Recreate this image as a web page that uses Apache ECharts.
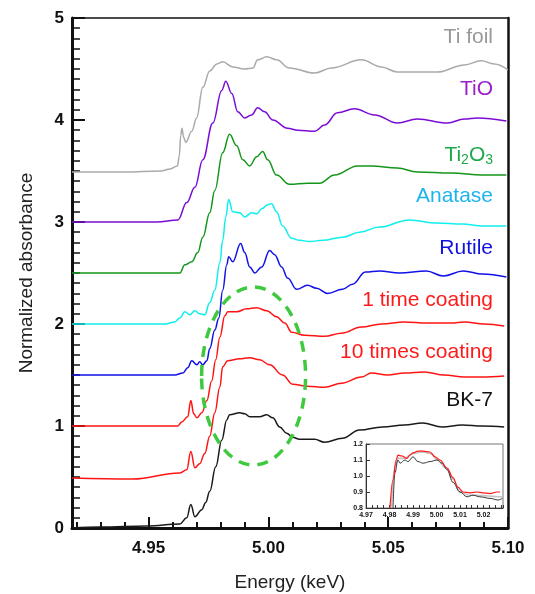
<!DOCTYPE html>
<html>
<head>
<meta charset="utf-8">
<script src="https://cdn.jsdelivr.net/npm/echarts@6/dist/echarts.min.js"></script>
<style>
html,body{margin:0;padding:0;background:#fff}
#chart{width:535px;height:594px}
</style>
</head>
<body>
<div id="chart"></div>
<script>
// spectra, energy in keV, absorbance offset per sample
var tiFoilE = [4.918, 4.940, 4.955, 4.959, 4.962, 4.9628, 4.9634, 4.9639, 4.9646, 4.9655, 4.968, 4.970, 4.9726, 4.9755, 4.9785, 4.9809, 4.9851, 4.990, 4.9935, 4.9955, 4.9993, 5.0034, 5.0088, 5.0193, 5.0263, 5.0388, 5.0472, 5.0538, 5.0705, 5.0818, 5.0888, 5.0943, 5.100];
var tiFoilA = [3.49, 3.49, 3.50, 3.52, 3.55, 3.65, 3.85, 3.92, 3.83, 3.78, 3.89, 4.02, 4.32, 4.48, 4.55, 4.57, 4.52, 4.50, 4.51, 4.59, 4.62, 4.59, 4.51, 4.46, 4.51, 4.59, 4.52, 4.47, 4.47, 4.54, 4.58, 4.55, 4.49];

var tioE = [4.918, 4.9534, 4.9622, 4.9659, 4.9693, 4.9726, 4.9768, 4.9805, 4.9822, 4.9847, 4.9872, 4.9901, 4.993, 4.9955, 4.9984, 5.0018, 5.008, 5.0122, 5.0193, 5.0234, 5.0288, 5.0359, 5.0443, 5.0538, 5.0622, 5.0747, 5.0818, 5.0872, 5.0993];
var tioA = [3.00, 3.00, 3.02, 3.19, 3.34, 3.61, 3.97, 4.29, 4.38, 4.26, 4.08, 4.02, 4.05, 4.12, 4.08, 4.00, 3.92, 3.90, 3.89, 3.95, 4.07, 4.11, 4.05, 3.97, 4.01, 3.97, 4.01, 4.02, 3.99];

var ti2o3E = [4.918, 4.963, 4.9651, 4.968, 4.9705, 4.9726, 4.9755, 4.9776, 4.9809, 4.9838, 4.9867, 4.9893, 4.9922, 4.9951, 4.9976, 4.9997, 5.0034, 5.0088, 5.0163, 5.0213, 5.0276, 5.0372, 5.043, 5.0538, 5.0622, 5.0763, 5.0893, 5.0993];
var ti2o3A = [2.50, 2.50, 2.58, 2.61, 2.70, 2.85, 3.09, 3.31, 3.68, 3.86, 3.75, 3.61, 3.55, 3.64, 3.69, 3.61, 3.46, 3.37, 3.38, 3.38, 3.46, 3.55, 3.55, 3.53, 3.49, 3.48, 3.46, 3.46];

var anataseE = [4.918, 4.9568, 4.9609, 4.963, 4.9651, 4.9672, 4.9693, 4.9713, 4.9734, 4.9755, 4.9776, 4.9797, 4.9809, 4.9822, 4.9834, 4.9851, 4.988, 4.9901, 4.993, 4.9951, 4.9972, 4.9997, 5.0013, 5.0034, 5.0059, 5.0097, 5.013, 5.0172, 5.0226, 5.0309, 5.038, 5.0463, 5.0588, 5.0701, 5.0809, 5.0893, 5.0993];
var anataseA = [2.00, 2.00, 2.02, 2.06, 2.12, 2.09, 2.13, 2.10, 2.09, 2.21, 2.33, 2.60, 2.82, 3.05, 3.22, 3.10, 3.09, 3.05, 3.09, 3.08, 3.13, 3.17, 3.18, 3.10, 2.96, 2.84, 2.82, 2.81, 2.82, 2.85, 2.90, 2.95, 3.02, 2.99, 2.98, 2.96, 2.96];

var rutileE = [4.918, 4.9609, 4.9643, 4.9663, 4.968, 4.9701, 4.9713, 4.9726, 4.9743, 4.9755, 4.9776, 4.9793, 4.9809, 4.9826, 4.9834, 4.9851, 4.9884, 4.9901, 4.9922, 4.9943, 4.9972, 5.0005, 5.0026, 5.0055, 5.008, 5.0118, 5.0163, 5.0201, 5.0247, 5.0309, 5.0351, 5.0405, 5.0463, 5.0547, 5.0659, 5.073, 5.0813, 5.0893, 5.0993];
var rutileA = [1.50, 1.50, 1.52, 1.57, 1.64, 1.60, 1.63, 1.60, 1.64, 1.76, 1.94, 2.06, 2.33, 2.58, 2.66, 2.61, 2.79, 2.70, 2.56, 2.50, 2.56, 2.72, 2.68, 2.56, 2.45, 2.34, 2.38, 2.35, 2.30, 2.34, 2.39, 2.51, 2.52, 2.50, 2.52, 2.47, 2.52, 2.49, 2.46];

var coat1E = [4.918, 4.9622, 4.9638, 4.9663, 4.9676, 4.9688, 4.9701, 4.9722, 4.9743, 4.9763, 4.978, 4.9797, 4.9818, 4.983, 4.9868, 4.9909, 4.9951, 4.9993, 5.0034, 5.0068, 5.0097, 5.0151, 5.0234, 5.0305, 5.0388, 5.0472, 5.0568, 5.0663, 5.0763, 5.0818, 5.0901, 5.0984];
var coat1A = [1.00, 1.00, 1.04, 1.09, 1.25, 1.12, 1.08, 1.13, 1.25, 1.44, 1.65, 1.87, 2.08, 2.12, 2.12, 2.15, 2.16, 2.13, 2.07, 2.01, 1.92, 1.89, 1.88, 1.91, 1.97, 2.00, 2.02, 2.01, 2.01, 2.02, 2.00, 1.98];

var coat10E = [4.918, 4.9434, 4.963, 4.9659, 4.9676, 4.9693, 4.9713, 4.9734, 4.9755, 4.9776, 4.9797, 4.9809, 4.983, 4.988, 4.9922, 4.9963, 5.0005, 5.0059, 5.0101, 5.0163, 5.0234, 5.0305, 5.0388, 5.043, 5.0497, 5.0568, 5.0651, 5.0734, 5.0818, 5.0888, 5.0984];
var coat10A = [0.49, 0.48, 0.54, 0.57, 0.75, 0.59, 0.63, 0.73, 0.90, 1.13, 1.38, 1.58, 1.64, 1.66, 1.67, 1.65, 1.60, 1.50, 1.41, 1.39, 1.38, 1.42, 1.48, 1.52, 1.50, 1.52, 1.53, 1.50, 1.48, 1.48, 1.49];

var bk7E = [4.918, 4.9297, 4.9493, 4.963, 4.9659, 4.9676, 4.9693, 4.9722, 4.9738, 4.9755, 4.978, 4.9805, 4.9826, 4.9838, 4.988, 4.9901, 4.9922, 4.9963, 4.9993, 5.0018, 5.0047, 5.0076, 5.0101, 5.013, 5.0193, 5.0234, 5.0309, 5.038, 5.0476, 5.0568, 5.0643, 5.0726, 5.0809, 5.0893, 5.0984];
var bk7A = [0.00, 0.01, 0.02, 0.04, 0.10, 0.23, 0.11, 0.18, 0.25, 0.36, 0.60, 0.86, 1.06, 1.11, 1.13, 1.12, 1.09, 1.09, 1.11, 1.08, 0.99, 0.93, 0.89, 0.87, 0.87, 0.84, 0.88, 0.96, 0.99, 1.01, 1.03, 0.99, 1.01, 1.00, 0.99];

// inset (edge region, not offset)
var insetGrayE = [4.9808, 4.9822, 4.9835, 4.9860, 4.9900, 4.9940, 4.9975, 5.0005, 5.0040, 5.0070, 5.0100, 5.0140, 5.0180, 5.0220, 5.0260, 5.028];
var insetGrayA = [0.80, 1.05, 1.11, 1.11, 1.14, 1.15, 1.14, 1.10, 1.05, 0.98, 0.90, 0.88, 0.88, 0.875, 0.87, 0.87];
var insetBlackE = [4.9815, 4.9823, 4.9836, 4.9845, 4.9866, 4.9879, 4.990, 4.9921, 4.9943, 4.9972, 5.0002, 5.0023, 5.0045, 5.007, 5.010, 5.013, 5.0155, 5.0185, 5.0228, 5.0262, 5.028];
var insetBlackA = [0.80, 1.02, 1.10, 1.08, 1.10, 1.09, 1.12, 1.09, 1.08, 1.09, 1.10, 1.08, 1.04, 0.96, 0.90, 0.87, 0.88, 0.87, 0.86, 0.85, 0.86];
var insetRedE = [4.9802, 4.9815, 4.9828, 4.9836, 4.9853, 4.9874, 4.9887, 4.990, 4.9921, 4.9943, 4.9972, 4.9994, 5.0015, 5.0045, 5.007, 5.0091, 5.0113, 5.0143, 5.0172, 5.0198, 5.0228, 5.0257, 5.027];
var insetRedA = [0.80, 0.975, 1.10, 1.13, 1.125, 1.11, 1.13, 1.145, 1.155, 1.155, 1.15, 1.12, 1.10, 1.05, 0.99, 0.93, 0.90, 0.895, 0.90, 0.895, 0.89, 0.90, 0.90];

// tick labels
var xLabels = [4.95, 5.00, 5.05, 5.10];
var xMinor = [4.92, 4.93, 4.94, 4.95, 4.96, 4.97, 4.98, 4.99, 5.00, 5.01, 5.02, 5.03, 5.04, 5.05, 5.06, 5.07, 5.08, 5.09, 5.10];
var insetXLabels = [4.97, 4.98, 4.99, 5.00, 5.01, 5.02];

// dashed ellipse marking the white-line region (data coords)
var ringCenter = [4.9938, 1.49];
var ringRadius = [0.0217, 0.873];

function zip(xs, ys) {
  var out = [];
  for (var i = 0; i < xs.length; i++) out.push([xs[i], ys[i]]);
  return out;
}

var FONT = 'Liberation Sans, Arial, sans-serif';

function line(name, xs, ys, color, width, xi, yi, z) {
  return {
    name: name, type: 'line', data: zip(xs, ys),
    xAxisIndex: xi || 0, yAxisIndex: yi || 0,
    showSymbol: false, symbol: 'none', smooth: 0.4, smoothMonotone: 'x',
    lineStyle: { color: color, width: width || 1.5 },
    emphasis: { disabled: true }, animation: false, z: z || 3
  };
}

var chart = echarts.init(document.getElementById('chart'));

var option = {
  animation: false,
  backgroundColor: '#fff',
  grid: [
    { left: 72, right: 27, top: 18, bottom: 66, outerBoundsMode: 'none' },
    { left: 366, top: 444, width: 137, height: 64, outerBoundsMode: 'none',
      show: true, backgroundColor: '#fff', borderColor: '#777', borderWidth: 1 }
  ],
  xAxis: [
    { // main, labels + minor ticks
      type: 'value', gridIndex: 0, min: 4.918, max: 5.10,
      name: 'Energy (keV)', nameLocation: 'middle', nameGap: 45,
      nameTextStyle: { fontFamily: FONT, fontSize: 19, color: '#222' },
      axisLine: { lineStyle: { color: '#111', width: 3 } },
      axisTick: { inside: true, length: 6, customValues: xMinor, lineStyle: { color: '#111', width: 2 } },
      axisLabel: { customValues: xLabels, margin: 12, fontFamily: FONT, fontSize: 17, fontWeight: 'bold', color: '#111',
        formatter: function (v) { return v.toFixed(2); } },
      splitLine: { show: false }
    },
    { // major ticks
      type: 'value', gridIndex: 0, min: 4.918, max: 5.10, position: 'bottom',
      axisLine: { show: false },
      axisTick: { inside: true, length: 11, customValues: xLabels, lineStyle: { color: '#111', width: 2 } },
      axisLabel: { show: false }, splitLine: { show: false }
    },
    { // top border
      type: 'value', gridIndex: 0, min: 4.918, max: 5.10, position: 'top',
      axisLine: { lineStyle: { color: '#111', width: 1.5 } },
      axisTick: { show: false }, axisLabel: { show: false }, splitLine: { show: false }
    },
    { // inset
      type: 'value', gridIndex: 1, min: 4.97, max: 5.0283, interval: 0.0025,
      axisLine: { lineStyle: { color: '#333', width: 1 } },
      axisTick: { inside: true, length: 3, lineStyle: { color: '#333' } },
      axisLabel: { customValues: insetXLabels, margin: 4, fontFamily: FONT, fontSize: 7, fontWeight: 'bold', color: '#111',
        formatter: function (v) { return v.toFixed(2); } },
      splitLine: { show: false }
    }
  ],
  yAxis: [
    {
      type: 'value', gridIndex: 0, min: 0, max: 5, interval: 1,
      name: 'Normalized absorbance', nameLocation: 'middle', nameGap: 36,
      nameTextStyle: { fontFamily: FONT, fontSize: 19, color: '#222' },
      axisLine: { show: true, lineStyle: { color: '#111', width: 3 } },
      axisTick: { inside: true, length: 13, lineStyle: { color: '#111', width: 2 } },
      minorTick: { show: true, splitNumber: 10, length: 8, lineStyle: { color: '#111', width: 1.5 } },
      axisLabel: { margin: 8, fontFamily: FONT, fontSize: 17, fontWeight: 'bold', color: '#111' },
      splitLine: { show: false }, minorSplitLine: { show: false }
    },
    { // right border
      type: 'value', gridIndex: 0, min: 0, max: 5, position: 'right',
      axisLine: { show: true, lineStyle: { color: '#111', width: 2.5 } },
      axisTick: { show: false }, axisLabel: { show: false }, splitLine: { show: false }
    },
    { // inset
      type: 'value', gridIndex: 1, min: 0.8, max: 1.2, interval: 0.1,
      axisLine: { show: true, lineStyle: { color: '#333', width: 1 } },
      axisTick: { inside: true, length: 4, lineStyle: { color: '#333' } },
      axisLabel: { margin: 3, fontFamily: FONT, fontSize: 7, fontWeight: 'bold', color: '#111',
        formatter: function (v) { return v.toFixed(1); } },
      splitLine: { show: false }
    }
  ],
  series: [
    line('Ti foil', tiFoilE, tiFoilA, '#aaaaaa'),
    line('TiO', tioE, tioA, '#7a0cd6'),
    line('Ti2O3', ti2o3E, ti2o3A, '#13961b'),
    line('Anatase', anataseE, anataseA, '#10eeee'),
    line('Rutile', rutileE, rutileA, '#1212e8'),
    line('1 time coating', coat1E, coat1A, '#ff1414'),
    line('10 times coating', coat10E, coat10A, '#ff1414'),
    line('BK-7', bk7E, bk7A, '#1a1a1a'),
    line('inset gray', insetGrayE, insetGrayA, '#c4c4c4', 1.6, 3, 2, 6),
    line('inset black', insetBlackE, insetBlackA, '#222222', 0.9, 3, 2, 7),
    line('inset red', insetRedE, insetRedA, '#ff1a1a', 1.2, 3, 2, 8)
  ]
};

chart.setOption(option);

// sample labels + ellipse, placed after layout is known
var labelFont = '21px ' + FONT;
function tag(text, y, color) {
  return { type: 'text', x: 493, y: y, z: 10,
    style: { text: text, fill: color, font: labelFont, align: 'right', verticalAlign: 'middle' } };
}

var c = chart.convertToPixel({ xAxisIndex: 0, yAxisIndex: 0 }, ringCenter);
var edge = chart.convertToPixel({ xAxisIndex: 0, yAxisIndex: 0 }, [ringCenter[0] + ringRadius[0], ringCenter[1] + ringRadius[1]]);

chart.setOption({
  graphic: [
    tag('Ti foil', 37, '#999999'),
    tag('TiO', 89, '#9a1fc8'),
    { type: 'text', x: 493, y: 155, z: 10,
      style: { text: '{a|Ti}{s|2}{a|O}{s|3}', align: 'right', verticalAlign: 'middle',
        rich: {
          a: { font: labelFont, fill: '#1fa84a', lineHeight: 24 },
          s: { fontFamily: FONT, fontSize: 14, fill: '#1fa84a', lineHeight: 14, verticalAlign: 'bottom' }
        } } },
    tag('Anatase', 196, '#1db4ee'),
    tag('Rutile', 248, '#1010e0'),
    tag('1 time coating', 300, '#ff1a1a'),
    tag('10 times coating', 352, '#ff1a1a'),
    tag('BK-7', 400, '#111111'),
    { type: 'ellipse', z: 8, silent: true,
      shape: { cx: c[0], cy: c[1], rx: Math.abs(edge[0] - c[0]), ry: Math.abs(c[1] - edge[1]) },
      style: { fill: 'none', stroke: '#3fc93f', lineWidth: 3.5, lineDash: [11, 8] } }
  ]
});
</script>
</body>
</html>
